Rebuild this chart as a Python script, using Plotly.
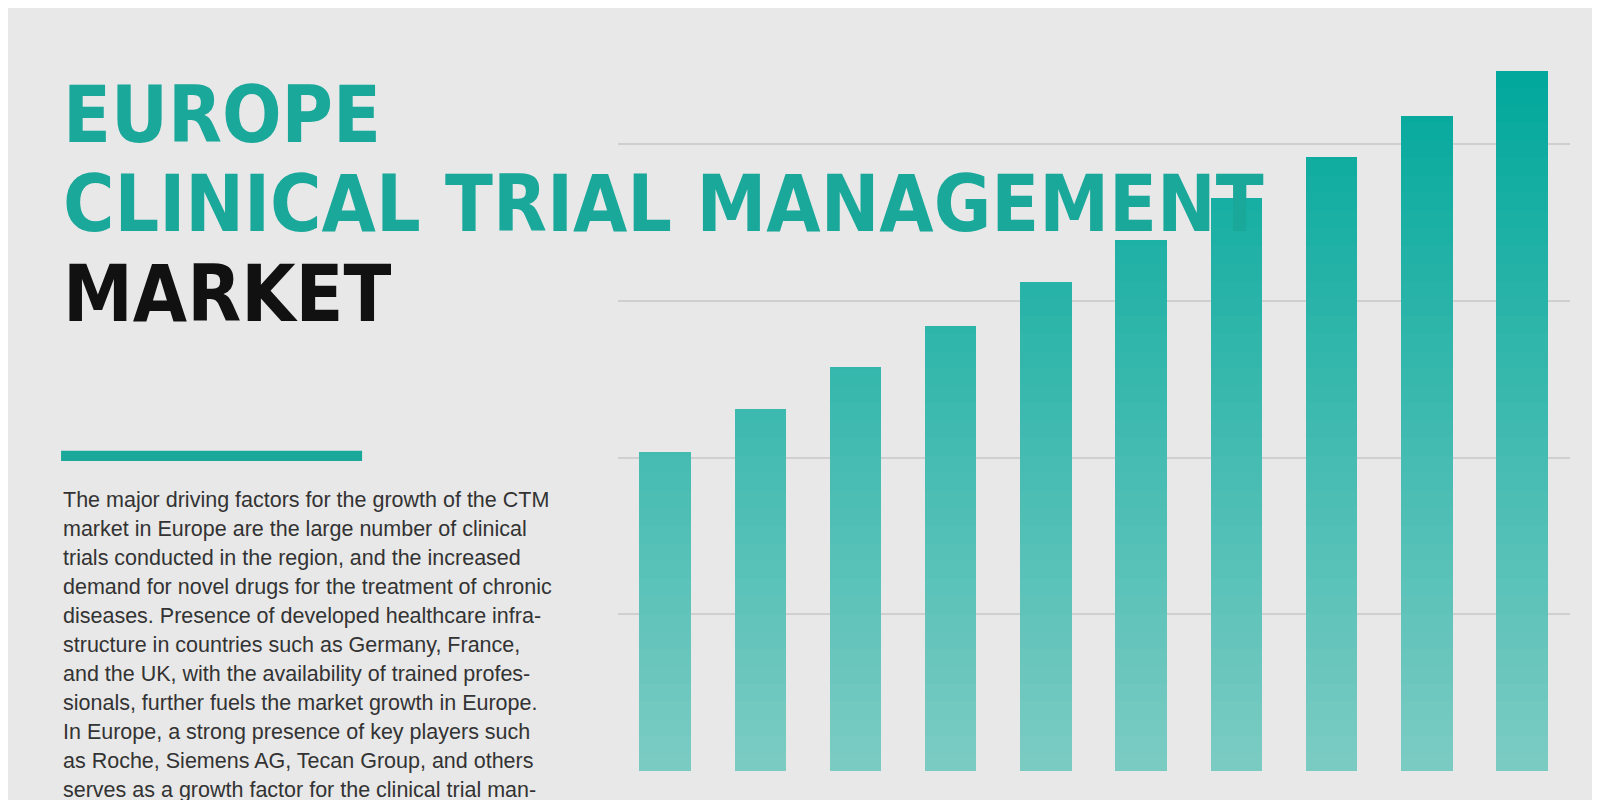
import plotly.graph_objects as go
import numpy as np

years = [str(i) for i in range(1, 11)]
values = [2.04, 2.31, 2.58, 2.84, 3.12, 3.39, 3.66, 3.92, 4.18, 4.47]
title_lines = ["EUROPE", "CLINICAL TRIAL MANAGEMENT", "MARKET"]
body_lines = [
    "The major driving factors for the growth of the CTM",
    "market in Europe are the large number of clinical",
    "trials conducted in the region, and the increased",
    "demand for novel drugs for the treatment of chronic",
    "diseases. Presence of developed healthcare infra-",
    "structure in countries such as Germany, France,",
    "and the UK, with the availability of trained profes-",
    "sionals, further fuels the market growth in Europe.",
    "In Europe, a strong presence of key players such",
    "as Roche, Siemens AG, Tecan Group, and others",
    "serves as a growth factor for the clinical trial man-",
    "agement market in Europe.",
]

W, H = 1600, 800
ymax = 4.87
fig = go.Figure()
# gradient via stacked segments
N = 40
step = max(values) / N
top_c = np.array([0, 168, 156]); bot_c = np.array([124, 204, 195])
for k in range(N):
    lo = k * step
    seg = [max(0, min(step, v - lo)) for v in values]
    t = (lo + step / 2) / max(values)
    c = bot_c + (top_c - bot_c) * t
    fig.add_bar(x=years, y=seg, marker=dict(color=f"rgb({c[0]:.0f},{c[1]:.0f},{c[2]:.0f})", line=dict(width=0)),
                hoverinfo="skip", showlegend=False)

fig.update_layout(
    width=W, height=H, barmode="stack", bargap=0.46,
    paper_bgcolor="#e8e8e8", plot_bgcolor="#e8e8e8",
    margin=dict(l=0, r=0, t=0, b=0),
    xaxis=dict(domain=[0.381, 0.976], showticklabels=False, showgrid=False, zeroline=False),
    yaxis=dict(range=[0, ymax], domain=[0.046, 1], tickvals=[0, 1, 2, 3, 4], showticklabels=False,
               gridcolor="#cfcfcf", gridwidth=1.5, zeroline=False),
)
tf = "Liberation Sans Narrow, DejaVu Sans Condensed, Roboto"
ty = [105, 192, 280]
cols = ["#1aa89a", "#1aa89a", "#111111"]
for line, y, c in zip(title_lines, ty, cols):
    fig.add_annotation(text=f"<b>{line}</b>", x=52/1568, y=1 - y/784, xref="paper", yref="paper",
                       xanchor="left", yanchor="middle", showarrow=False,
                       font=dict(family=tf, size=78, color=c))
fig.add_shape(type="rect", xref="paper", yref="paper", x0=52/1568, x1=347/1568,
              y0=1 - 444/784, y1=1 - 434/784, fillcolor="#1aa89a", line=dict(width=0))
for i, line in enumerate(body_lines):
    y = 482 + i * 28.4
    fig.add_annotation(text=line, x=52/1568, y=1 - y/784, xref="paper", yref="paper",
                       xanchor="left", yanchor="middle", showarrow=False,
                       font=dict(family="Liberation Sans, Arial", size=21.5, color="#333333"))
fig.write_html("out.html")
